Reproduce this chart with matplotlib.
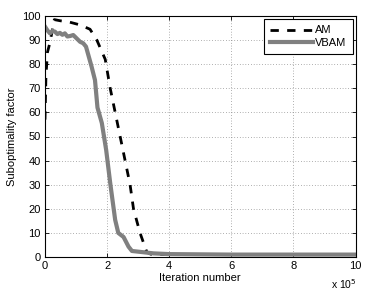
import matplotlib
matplotlib.use("Agg")
import matplotlib.pyplot as plt

plt.rcParams['font.family'] = ['Liberation Sans', 'DejaVu Sans']

# Iteration number in units of 1e5
am_x = [0.0, 0.03, 0.08, 0.16, 0.3, 0.5, 0.75, 1.13, 1.45, 1.67, 1.94, 2.1, 2.26, 2.42, 2.58, 2.74, 2.85, 3.06, 3.28, 3.4, 4.0, 6.0, 8.0, 10.0]
am_y = [57, 75, 85, 89, 98.5, 98.0, 97.6, 96.3, 94.5, 90, 82, 70, 60, 50, 40, 30, 20, 10, 2, 1.2, 1.0, 1.0, 1.0, 1.0]

vbam_x = [0.0, 0.08, 0.16, 0.24, 0.32, 0.4, 0.48, 0.56, 0.64, 0.72, 0.81, 0.91, 1.02, 1.13, 1.23, 1.32, 1.5, 1.61, 1.69, 1.83, 1.97, 2.1, 2.26, 2.36, 2.53, 2.69, 2.8, 3.5, 4.0, 6.0, 8.0, 10.0]
vbam_y = [95.6, 94.0, 92.8, 93.8, 93.5, 92.5, 93.0, 92.2, 92.8, 91.5, 91.7, 92.1, 90.7, 89.3, 88.7, 87.3, 79, 73.4, 62, 55.6, 44.4, 30.7, 15.4, 10, 8.3, 4.3, 2.5, 1.5, 1.2, 1.0, 1.0, 1.0]

x_ticks = [0, 2, 4, 6, 8, 10]
y_ticks = [0, 10, 20, 30, 40, 50, 60, 70, 80, 90, 100]

fig = plt.figure(figsize=(3.67, 2.95), dpi=100)
ax = fig.add_axes([45/367, 1 - 257/295, (355.5 - 45)/367, (257 - 16)/295])

ax.plot(am_x, am_y, color='black', linestyle=(0, (3, 3)), linewidth=2.0, label='AM')
ax.plot(vbam_x, vbam_y, color='#808080', linestyle='-', linewidth=3.0, label='VBAM', solid_joinstyle='round')

ax.set_xlim(0, 10)
ax.set_ylim(0, 100)
ax.set_xticks(x_ticks)
ax.set_yticks(y_ticks)
ax.tick_params(direction='in', length=3, width=0.6, labelsize=8, top=True, right=True, pad=3)
ax.grid(True, linestyle=(0, (1, 3)), color='#666666', linewidth=0.5)
for s in ax.spines.values():
    s.set_linewidth(0.8)

ax.set_xlabel('Iteration number', fontsize=8, labelpad=1)
ax.set_ylabel('Suboptimality factor', fontsize=8, labelpad=4)
fig.text(357/367, 1 - 291/295, r'x 10$^5$', fontsize=7.5, ha='right', va='bottom')

leg = ax.legend(loc='upper right', fontsize=8, frameon=True, fancybox=False, edgecolor='black',
                handlelength=3.8, borderpad=0.6, labelspacing=0.2, handletextpad=0.2,
                borderaxespad=0.25, framealpha=1)
leg.get_frame().set_linewidth(0.8)

fig.savefig('out.png', dpi=100)
